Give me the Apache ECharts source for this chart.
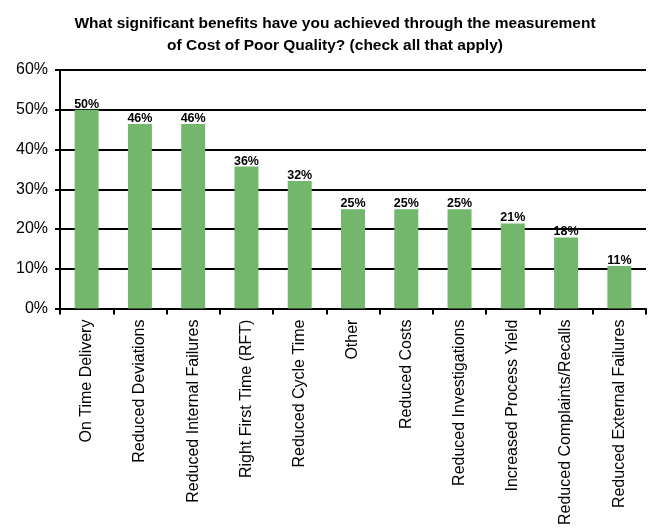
<!DOCTYPE html>
<html><head><meta charset="utf-8">
<script src="https://cdn.jsdelivr.net/npm/echarts@6/dist/echarts.min.js"></script>
<style>html,body{margin:0;padding:0;background:#fff}#c{width:648px;height:528px}</style>
</head><body><div id="c"></div>
<script>
const categories = ["On Time Delivery","Reduced Deviations","Reduced Internal Failures","Right First Time (RFT)","Reduced Cycle Time","Other","Reduced Costs","Reduced Investigations","Increased Process Yield","Reduced Complaints/Recalls","Reduced External Failures"];
const values = [50, 46.4, 46.4, 35.7, 32.1, 25, 25, 25, 21.4, 17.9, 10.7];
const yTicks = [0, 10, 20, 30, 40, 50, 60];
const titleText = "What significant benefits have you achieved through the measurement\nof Cost of Poor Quality? (check all that apply)";

const chart = echarts.init(document.getElementById('c'));
chart.setOption({
  animation: false,
  textStyle: {fontFamily: 'Liberation Sans, Arial, sans-serif'},
  title: {
    text: titleText, left: 330, textAlign: 'center', top: 8,
    textStyle: {fontSize: 15.5, fontWeight: 'bold', color: '#000', lineHeight: 22, fontFamily: 'Liberation Sans, Arial, sans-serif'}
  },
  grid: {left: 60, right: 2, top: 70, bottom: 218},
  xAxis: {
    type: 'category', data: categories,
    axisLine: {lineStyle: {color: '#000', width: 2}},
    axisTick: {show: true, length: 6, lineStyle: {color: '#000', width: 2}},
    axisLabel: {rotate: 90, fontSize: 16, color: '#000', margin: 11, interval: 0}
  },
  yAxis: {
    type: 'value', min: yTicks[0], max: yTicks[yTicks.length-1], interval: 10,
    axisLine: {show: true, lineStyle: {color: '#000', width: 2}},
    axisTick: {show: true, length: 5, lineStyle: {color: '#000', width: 2}},
    splitLine: {show: true, lineStyle: {color: '#000', width: 2}},
    axisLabel: {formatter: v => v + '%', fontSize: 16, color: '#000', margin: 12}
  },
  series: [{
    type: 'bar', data: values, barWidth: '45%',
    itemStyle: {color: '#72b76c'},
    label: {show: true, position: 'top', distance: -1, formatter: p => Math.round(p.value) + '%', fontSize: 12.5, fontWeight: 'bold', color: '#000'}
  }]
});
</script></body></html>
